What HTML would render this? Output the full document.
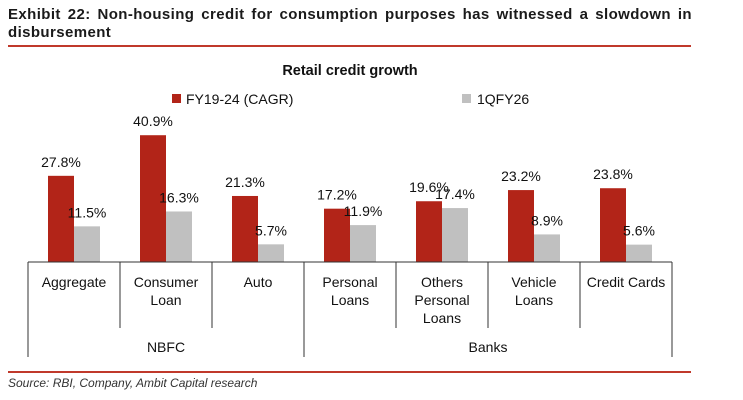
<!DOCTYPE html>
<html><head><meta charset="utf-8"><style>
body{margin:0;width:743px;height:400px;background:#fff;font-family:"Liberation Sans",sans-serif;overflow:hidden;position:relative}
.t{position:absolute;left:8px;top:6px;width:684px;font-weight:bold;font-size:15px;letter-spacing:0.4px;color:#1a1a1a;line-height:18px;text-align:justify}
.rule{position:absolute;left:8px;width:683px;height:2px;background:#c0392b}
.src{position:absolute;left:8px;top:376px;font-style:italic;font-size:12px;color:#333}
</style></head><body>
<div class="t">Exhibit 22: Non-housing credit for consumption purposes has witnessed a slowdown in disbursement</div>
<div class="rule" style="top:45px"></div>
<svg id="c" width="743" height="400" style="position:absolute;left:0;top:0"></svg>
<div class="rule" style="top:371px"></div>
<div class="src">Source: RBI, Company, Ambit Capital research</div>
<script>
const categories=[["Aggregate"],["Consumer","Loan"],["Auto"],["Personal","Loans"],["Others","Personal","Loans"],["Vehicle","Loans"],["Credit Cards"]];
const cagr=[27.8,40.9,21.3,17.2,19.6,23.2,23.8];
const q1fy26=[11.5,16.3,5.7,11.9,17.4,8.9,5.6];
const groups=["NBFC","Banks"];
const groupSpans=[[0,3],[3,7]];
const svg=document.getElementById('c');const NS='http://www.w3.org/2000/svg';
function mk(t,a,txt){const e=document.createElementNS(NS,t);for(const k in a)e.setAttribute(k,a[k]);if(txt!=null)e.textContent=txt;svg.appendChild(e);return e;}
const x0=28,cw=92,base=262,k=3.1,bw=26;
const xc=i=>x0+i*cw;const y=v=>base-v*k;
let e=mk('text',{x:350,y:75,'text-anchor':'middle','font-size':14.5,'font-weight':'bold',fill:'#111'},'Retail credit growth');


e=mk('rect',{x:172,y:94,width:9,height:9,fill:'#b22418'});


e=mk('text',{x:186,y:104,'font-size':14,fill:'#111'},'FY19-24 (CAGR)');


e=mk('rect',{x:462,y:94,width:9,height:9,fill:'#c0c0c0'});


e=mk('text',{x:477,y:104,'font-size':14,fill:'#111'},'1QFY26');


categories.forEach((c,i)=>{
 const rx=xc(i)+20,gx=rx+bw;
 e=mk('rect',{x:rx,y:y(cagr[i]),width:bw,height:cagr[i]*k,fill:'#b22418'});
 
 
 e=mk('rect',{x:gx,y:y(q1fy26[i]),width:bw,height:q1fy26[i]*k,fill:'#c0c0c0'});
 
 
 e=mk('text',{x:rx+bw/2,y:y(cagr[i])-9,'text-anchor':'middle','font-size':14,fill:'#111'},cagr[i].toFixed(1)+'%');
 
 
 e=mk('text',{x:gx+bw/2,y:y(q1fy26[i])-9,'text-anchor':'middle','font-size':14,fill:'#111'},q1fy26[i].toFixed(1)+'%');
 
 
 c.forEach((ln,j)=>{
  e=mk('text',{x:xc(i)+cw/2,y:287+j*18,'text-anchor':'middle','font-size':14,fill:'#111'},ln);
  
  
 });
});
e=mk('line',{x1:x0,x2:xc(categories.length),y1:base,y2:base,stroke:'#333','stroke-width':1});


const outer=new Set([0,...groupSpans.map(s=>s[1])]);
for(let i=0;i<=categories.length;i++){
 e=mk('line',{x1:xc(i),x2:xc(i),y1:base,y2:outer.has(i)?357:328,stroke:'#333','stroke-width':1});
 
 
}
groups.forEach((g,i)=>{
 const s=groupSpans[i];
 e=mk('text',{x:(xc(s[0])+xc(s[1]))/2,y:352,'text-anchor':'middle','font-size':14,fill:'#111'},g);
 
 
});
</script>
</body></html>
